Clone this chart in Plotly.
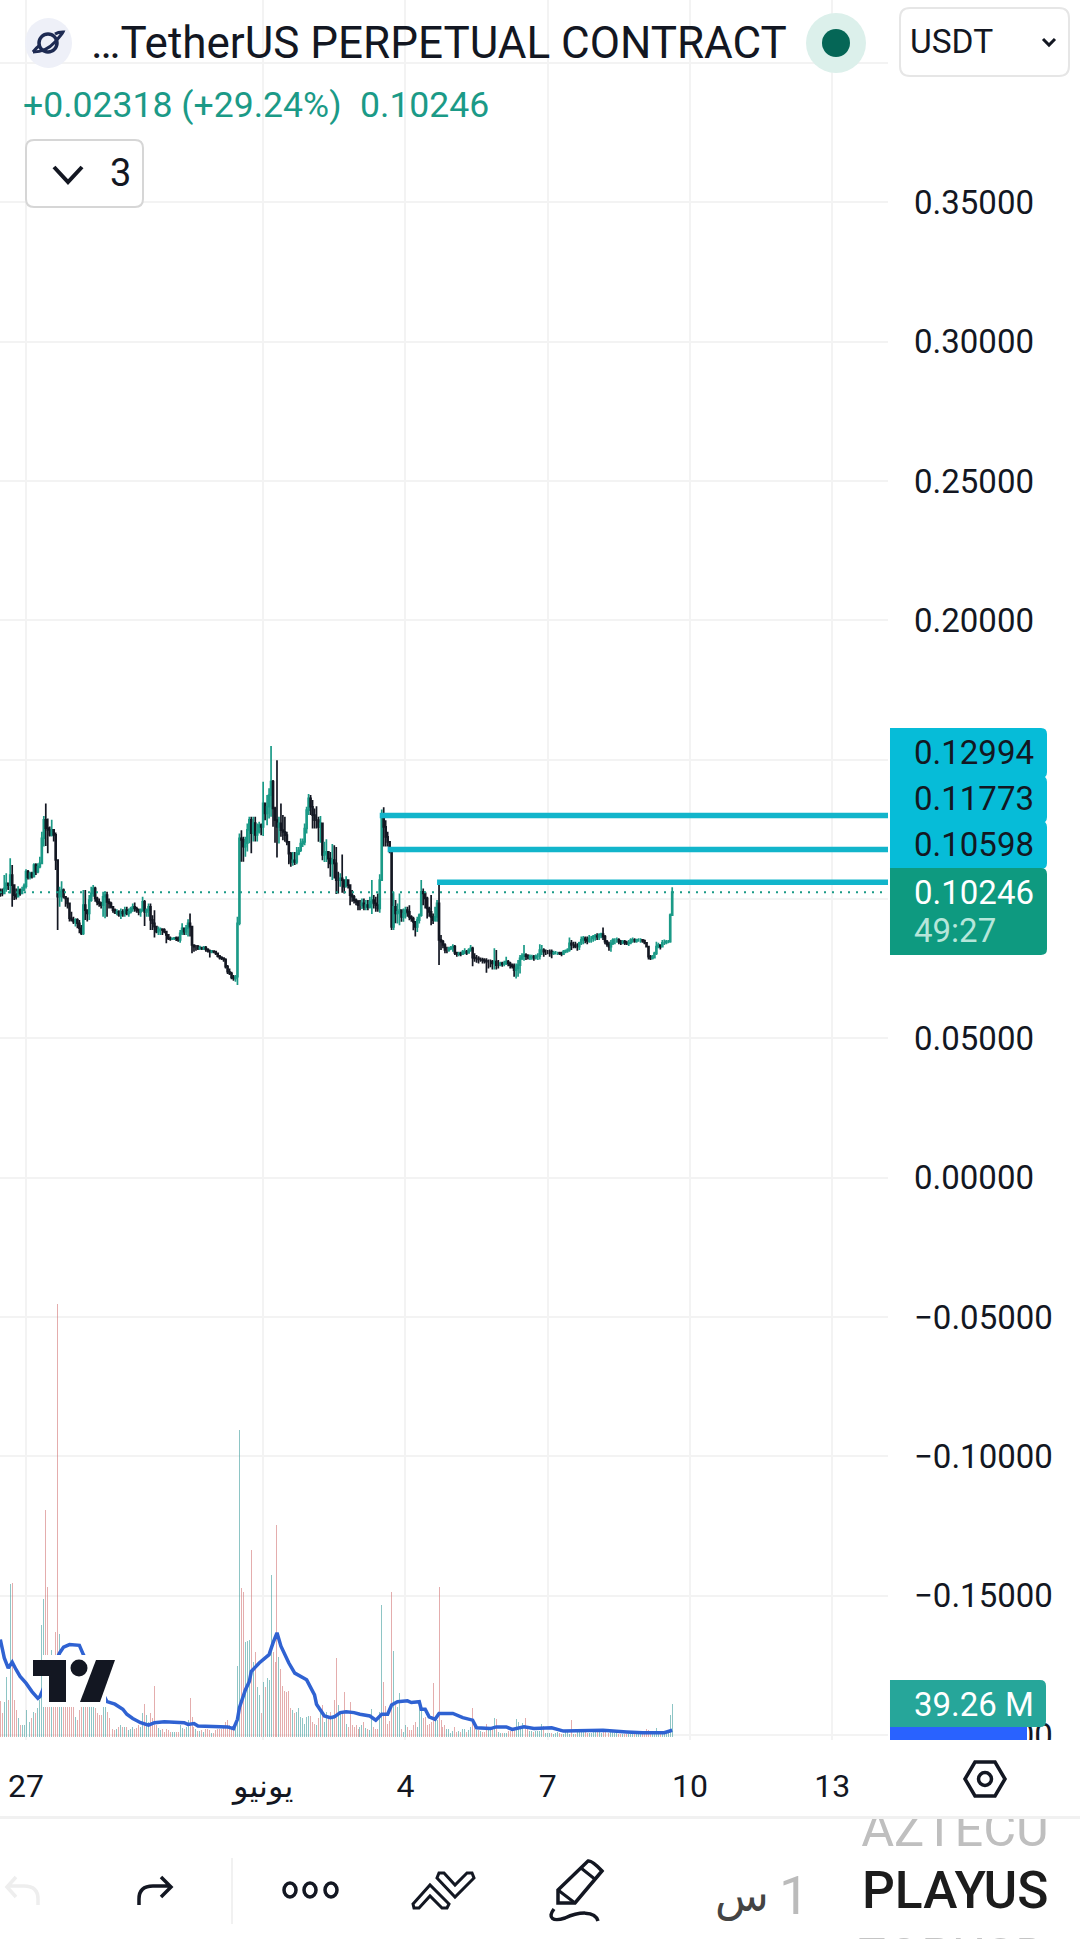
import pandas as pd
import plotly.graph_objects as go

W = 1080
H = 1939

first_open = 0.1032

closes = [
    .1026, .1020, .1038, .1056, .1050, .1086, .1050, .1014, .1008, .1032,
    .1020, .1032, .1046, .1098, .1078, .1092, .1080, .1122, .1098, .1116,
    .1128, .1218, .1284, .1254, .1248, .1230, .1248, .1230, .1140, .1008,
    .1026, .1032, .1008, .1002, .0984, .0931, .0925, .0919, .0925, .0913,
    .0895, .0877, .0978, .0960, .0948, .0996, .1020, .1038, .1002, .0990,
    .0984, .0978, .1008, .1014, .0990, .0984, .0972, .0960, .0951, .0954,
    .0942, .0954, .0948, .0960, .0948, .0954, .0966, .0972, .0966, .0960,
    .0954, .0960, .0990, .0954, .0960, .0972, .0925, .0913, .0901, .0883,
    .0889, .0891, .0889, .0883, .0871, .0859, .0857, .0859, .0860, .0859, .0853,
    .0877, .0895, .0883, .0895, .0913, .0901, .0835, .0829, .0829, .0823,
    .0826, .0823, .0826, .0819, .0814, .0811, .0813, .0811, .0805, .0795,
    .0790, .0788, .0783, .0757, .0739, .0733, .0719, .0715, .0721, .0913,
    .1218, .1212, .1188, .1200, .1248, .1284, .1236, .1272, .1230, .1242,
    .1265, .1259, .1343, .1307, .1331, .1373, .1421, .1325, .1283, .1259,
    .1271, .1247, .1241, .1229, .1205, .1163, .1133, .1139, .1133, .1163,
    .1175, .1199, .1205, .1253, .1319, .1361, .1331, .1301, .1283, .1283,
    .1259, .1271, .1158, .1163, .1169, .1145, .1128, .1140, .1128, .1068,
    .1068, .1074, .1068, .1044, .1068, .1050, .1014, .1008, .0996, .0990,
    .0978, .0978, .0984, .0972, .0978, .0972, .0990, .0996, .0984, .0978,
    .0966, .1068, .1295, .1259, .1223, .1205, .1181, .0900, .0972, .0948,
    .0954, .0960, .0936, .0948, .0960, .0954, .0936, .0930, .0918, .0900,
    .0924, .0942, .1026, .1020, .1002, .0966, .0954, .0936, .0924, .0936,
    .0984, .0853, .0847, .0835, .0817, .0817, .0823, .0826, .0829, .0807,
    .0802, .0805, .0802, .0811, .0811, .0807, .0817, .0823, .0790, .0787,
    .0787, .0783, .0783, .0781, .0778, .0775, .0775, .0775, .0769, .0775,
    .0763, .0763, .0769, .0767, .0769, .0775, .0769, .0763, .0759, .0745,
    .0751, .0763, .0787, .0795, .0799, .0795, .0790, .0793, .0793, .0790, .0795,
    .0795, .0817, .0817, .0811, .0811, .0811, .0811, .0805, .0807, .0807,
    .0807, .0805, .0802, .0811, .0814, .0817, .0841, .0835, .0835, .0829,
    .0829, .0843, .0853, .0859, .0853, .0850, .0859, .0859, .0865, .0867,
    .0865, .0871, .0874, .0865, .0847, .0838, .0829, .0841, .0853, .0853,
    .0853, .0847, .0843, .0847, .0843, .0841, .0843, .0853, .0853, .0850,
    .0853, .0853, .0853, .0850, .0843, .0829, .0793, .0787, .0790, .0805,
    .0829, .0835, .0829, .0843, .0843, .0847, .0847, .0942, .10246,
]
highs = [
    .1038, .1038, .1086, .1092, .1056, .1146, .1122, .1050, .1038, .1046,
    .1038, .1044, .1056, .1107, .1104, .1098, .1098, .1128, .1128, .1128,
    .1152, .1241, .1298, .1343, .1289, .1260, .1284, .1248, .1239, .1140,
    .1044, .1064, .1038, .1008, .1002, .0960, .0954, .0936, .0931, .0931,
    .0925, .0907, .1032, .1032, .0960, .1014, .1044, .1050, .1044, .1008,
    .1002, .0990, .1026, .1026, .1026, .1002, .0990, .0972, .0966, .0963,
    .0960, .0966, .0963, .0972, .0972, .0966, .0972, .0984, .0987, .0972,
    .0966, .0966, .1008, .0996, .0966, .0984, .0984, .0942, .0960, .0901,
    .0901, .0898, .0895, .0895, .0883, .0865, .0865, .0862, .0864, .0865, .0865,
    .0889, .0913, .0895, .0907, .0927, .0948, .0901, .0837, .0835, .0835,
    .0832, .0829, .0831, .0831, .0823, .0819, .0817, .0814, .0813, .0805,
    .0799, .0795, .0790, .0787, .0763, .0751, .0739, .0727, .0727, .0936,
    .1235, .1247, .1223, .1223, .1271, .1295, .1295, .1295, .1295, .1271,
    .1277, .1271, .1421, .1343, .1373, .1397, .1549, .1427, .1331, .1498,
    .1295, .1343, .1301, .1295, .1241, .1205, .1169, .1169, .1169, .1187,
    .1187, .1217, .1217, .1271, .1331, .1377, .1373, .1355, .1325, .1333,
    .1295, .1298, .1199, .1205, .1214, .1169, .1169, .1197, .1193, .1187,
    .1098, .1092, .1160, .1068, .1082, .1070, .1044, .1032, .1014, .1002,
    .0996, .0996, .1002, .1002, .0996, .0996, .1008, .1068, .1014, .1008,
    .1020, .1089, .1321, .1329, .1283, .1241, .1205, .1181, .1026, .0996,
    .0984, .1020, .0954, .0966, .0972, .0972, .0978, .0942, .0936, .0918,
    .0936, .0948, .1068, .1038, .1026, .1008, .0972, .1014, .0948, .0972,
    .0996, .1050, .0871, .0853, .0841, .0829, .0829, .0831, .0838, .0835,
    .0811, .0811, .0811, .0817, .0823, .0817, .0823, .0835, .0829, .0805,
    .0799, .0795, .0790, .0789, .0787, .0787, .0783, .0783, .0781, .0823,
    .0817, .0781, .0775, .0775, .0778, .0793, .0781, .0775, .0769, .0769,
    .0769, .0781, .0799, .0805, .0835, .0805, .0802, .0801, .0800, .0799, .0801,
    .0805, .0838, .0835, .0823, .0819, .0817, .0819, .0819, .0814, .0813,
    .0811, .0811, .0811, .0817, .0819, .0823, .0862, .0853, .0847, .0847,
    .0841, .0847, .0865, .0867, .0865, .0865, .0871, .0867, .0871, .0874,
    .0877, .0877, .0879, .0898, .0871, .0853, .0847, .0853, .0859, .0859,
    .0862, .0859, .0853, .0853, .0853, .0850, .0853, .0859, .0862, .0859,
    .0857, .0859, .0859, .0856, .0855, .0843, .0829, .0799, .0799, .0811,
    .0847, .0843, .0838, .0853, .0855, .0853, .0853, .0948, .1042,
]
lows = [
    .1008, .1010, .1020, .1026, .1032, .1020, .0972, .0996, .0998, .1014,
    .1012, .1020, .1032, .1038, .1070, .1070, .1074, .1080, .1086, .1092,
    .1110, .1128, .1188, .1190, .1164, .1224, .1224, .1206, .1104, .0889,
    .0972, .0990, .1002, .0972, .0966, .0919, .0919, .0910, .0901, .0895,
    .0877, .0871, .0871, .0925, .0919, .0925, .0990, .1008, .0990, .0978,
    .0972, .0966, .0936, .0931, .0936, .0966, .0966, .0951, .0946, .0942,
    .0936, .0928, .0936, .0936, .0942, .0936, .0948, .0954, .0954, .0951,
    .0942, .0936, .0954, .0903, .0936, .0936, .0889, .0889, .0862, .0877,
    .0871, .0871, .0871, .0877, .0841, .0853, .0850, .0853, .0853, .0849, .0847,
    .0843, .0871, .0871, .0871, .0865, .0865, .0805, .0811, .0814, .0817,
    .0817, .0817, .0817, .0811, .0808, .0790, .0805, .0805, .0799, .0790,
    .0783, .0781, .0775, .0751, .0731, .0727, .0712, .0707, .0703, .0691,
    .0906, .1134, .1134, .1152, .1170, .1200, .1164, .1206, .1206, .1206,
    .1235, .1229, .1226, .1283, .1265, .1289, .1295, .1259, .1202, .1149,
    .1199, .1223, .1211, .1205, .1193, .1125, .1116, .1119, .1122, .1125,
    .1157, .1169, .1187, .1193, .1235, .1301, .1301, .1253, .1253, .1253,
    .1205, .1202, .1139, .1133, .1133, .1110, .1080, .1068, .1074, .1018,
    .1020, .1044, .1022, .1020, .1044, .1038, .0978, .0990, .0984, .0978,
    .0960, .0960, .0964, .0960, .0960, .0960, .0966, .0946, .0966, .0954,
    .0954, .0951, .1068, .1188, .1188, .1188, .1164, .0889, .0889, .0913,
    .0912, .0906, .0918, .0918, .0930, .0936, .0924, .0918, .0888, .0865,
    .0882, .0912, .0936, .0978, .0966, .0930, .0936, .0906, .0910, .0918,
    .0918, .0763, .0817, .0823, .0805, .0805, .0811, .0817, .0811, .0799,
    .0793, .0795, .0795, .0799, .0802, .0799, .0805, .0811, .0759, .0775,
    .0771, .0769, .0775, .0769, .0769, .0735, .0751, .0755, .0747, .0747,
    .0747, .0751, .0759, .0757, .0759, .0763, .0759, .0751, .0751, .0721,
    .0715, .0721, .0733, .0781, .0778, .0781, .0783, .0781, .0782, .0778, .0783,
    .0781, .0783, .0799, .0793, .0799, .0802, .0793, .0787, .0799, .0801,
    .0799, .0799, .0795, .0799, .0805, .0807, .0811, .0817, .0823, .0823,
    .0814, .0817, .0835, .0838, .0841, .0838, .0843, .0843, .0847, .0850,
    .0853, .0853, .0859, .0853, .0838, .0829, .0814, .0811, .0835, .0838,
    .0843, .0838, .0835, .0838, .0835, .0835, .0831, .0838, .0843, .0843,
    .0843, .0847, .0843, .0843, .0838, .0826, .0783, .0781, .0783, .0787,
    .0799, .0823, .0819, .0826, .0835, .0838, .0841, .0843, .0942,
]
volumes = [
    43, 28, 42, 71, 44, 182, 183, 44, 32, 22,
    14, 14, 14, 32, 38, 18, 22, 30, 28, 34,
    44, 133, 164, 270, 178, 52, 104, 40, 125, 515,
    123, 40, 38, 38, 38, 38, 38, 36, 24, 20,
    32, 36, 36, 36, 36, 36, 36, 36, 34, 28,
    26, 26, 40, 52, 30, 22, 14, 10, 8, 10,
    12, 14, 12, 12, 12, 8, 9, 12, 10, 11,
    14, 12, 28, 39, 26, 18, 28, 22, 61, 14,
    11, 8, 10, 6, 10, 8, 6, 6, 6, 6, 6,
    14, 11, 10, 12, 20, 46, 24, 12, 9, 7,
    7, 8, 6, 9, 10, 8, 5, 5, 8, 10,
    10, 10, 12, 18, 20, 14, 12, 12, 14, 85,
    365, 177, 172, 113, 114, 115, 223, 89, 101, 59,
    50, 28, 65, 60, 70, 68, 193, 101, 89, 252,
    95, 81, 61, 55, 54, 55, 34, 32, 28, 30,
    34, 24, 22, 16, 24, 25, 25, 18, 16, 14,
    22, 28, 38, 18, 30, 24, 30, 24, 44, 94,
    38, 30, 28, 54, 16, 12, 42, 14, 12, 14,
    10, 12, 14, 18, 11, 10, 8, 33, 12, 10,
    10, 30, 157, 65, 37, 15, 19, 173, 102, 38,
    36, 52, 9, 6, 14, 12, 8, 8, 14, 18,
    12, 34, 32, 22, 24, 14, 16, 18, 64, 22,
    20, 178, 20, 12, 14, 10, 10, 5, 7, 12,
    6, 7, 6, 9, 9, 6, 8, 12, 35, 16,
    8, 8, 7, 6, 6, 16, 10, 10, 10, 23,
    21, 6, 5, 5, 5, 5, 7, 7, 9, 8,
    21, 18, 10, 17, 17, 23, 10, 7, 7, 6, 7,
    7, 7, 15, 13, 5, 5, 5, 5, 3, 5,
    6, 5, 4, 4, 6, 6, 4, 20, 4, 4,
    6, 7, 9, 10, 6, 5, 5, 5, 6, 6,
    6, 6, 5, 6, 7, 6, 5, 6, 6, 5,
    5, 4, 4, 4, 3, 4, 4, 3, 3, 4,
    4, 3, 3, 4, 5, 9, 8, 6, 5, 4,
    11, 5, 4, 3, 4, 4, 5, 26, 39.26,
]

# volume moving average, read every few candles
ma_index = [0, 1, 2, 4, 6, 8, 10, 13, 16, 19, 20, 22, 30, 32, 35, 40, 42, 54, 58, 62,
            64, 67, 71, 75, 78, 83, 88, 93, 95, 98, 100, 108, 115, 118, 120, 121, 124,
            126, 127, 131, 136, 138, 140, 142, 146, 149, 155, 159, 160, 164, 167, 169,
            172, 175, 179, 182, 187, 190, 193, 196, 198, 201, 206, 208, 212, 213, 215,
            217, 220, 222, 229, 234, 239, 241, 248, 251, 256, 259, 265, 270, 279, 285,
            300, 305, 317, 325, 336, 340]
ma_values = [116, 104, 94, 82, 89, 80, 72, 64, 54, 46, 48, 59, 100, 107, 110, 109, 98, 42, 39, 33,
             27, 22, 17, 14, 17, 18, 17, 17, 15, 16, 13, 13, 12, 10, 21, 35, 56,
             66, 78, 88, 98, 112, 124, 108, 88, 76, 68, 50, 39, 25, 23, 24,
             29, 30, 29, 27, 25, 20, 27, 27, 38, 42, 43, 41, 42, 33, 33,
             24, 21, 28, 28, 23, 20, 11, 10, 12, 12, 9, 12, 10, 11, 7,
             8, 8, 6, 5, 5, 8]

level_prices = [0.12994, 0.11773, 0.10598]
level_starts = ["2025-06-03 11:00", "2025-06-03 15:00", "2025-06-04 16:00"]
last_price = 0.10246

price_ticks = [-0.20, -0.15, -0.10, -0.05, 0.00, 0.05, 0.10, 0.15, 0.20, 0.25, 0.30, 0.35, 0.40]
price_labels = ["−0.20000", "−0.15000", "−0.10000", "−0.05000", "0.00000", "0.05000", "0.10000",
                "0.15000", "0.20000", "0.25000", "0.30000", "0.35000", ""]
date_ticks = ["2025-05-27", "2025-06-01", "2025-06-04", "2025-06-07", "2025-06-10", "2025-06-13"]
date_labels = ["27", "يونيو", "4", "7", "10", "13"]

x_start = "2025-05-26 10:50"
x_end = "2025-06-14 04:12"

UP = "#1b9a87"
DOWN = "#131722"
INK = "#131722"
FONT = "Roboto, 'DejaVu Sans', sans-serif"

dates = pd.date_range("2025-05-26 11:00", periods=len(closes), freq="h")
opens = [first_open] + closes[:-1]
vol_colors = ["rgba(50,150,150,0.55)" if c >= o else "rgba(205,105,105,0.55)" for o, c in zip(opens, closes)]

fig = go.Figure()

fig.add_trace(go.Bar(x=dates, y=volumes, yaxis="y2", marker=dict(color=vol_colors, line_width=0),
                     width=0.5 * 3600000))
fig.add_trace(go.Scatter(x=[dates[i] for i in ma_index], y=ma_values, yaxis="y2", mode="lines",
                         line=dict(color="#2f62d2", width=3.5)))
fig.add_trace(go.Candlestick(x=dates, open=opens, high=highs, low=lows, close=closes, whiskerwidth=0,
                             increasing=dict(line=dict(color=UP, width=1.7), fillcolor=UP),
                             decreasing=dict(line=dict(color=DOWN, width=1.7), fillcolor=DOWN)))
fig.add_trace(go.Scatter(x=[x_start, x_end], y=[last_price, last_price], mode="lines",
                         line=dict(color=UP, width=2, dash="2px,6px")))
for price, start in zip(level_prices, level_starts):
    fig.add_trace(go.Scatter(x=[start, x_end], y=[price, price], mode="lines",
                             line=dict(color="#12b5cb", width=5.5)))


# everything below is screen furniture placed in pixels of the 1080x1939 page
def px_path(s):
    out = []
    is_y = False
    for tok in s.split():
        if tok.isalpha():
            out.append(tok)
        else:
            v = float(tok)
            out.append(f"{1 - v / H:.5f}" if is_y else f"{v / W:.5f}")
            is_y = not is_y
    return " ".join(out)


def shape_path(s, fill=None, line=None, width=0):
    fig.add_shape(type="path", path=px_path(s), xref="paper", yref="paper", layer="above",
                  fillcolor=fill if fill else "rgba(0,0,0,0)",
                  line=dict(color=line if line else "rgba(0,0,0,0)", width=width))


def rect(x0, y0, x1, y1, fill, label=None):
    fig.add_shape(type="rect", x0=x0 / W, x1=x1 / W, y0=1 - y0 / H, y1=1 - y1 / H, xref="paper", yref="paper",
                  layer="above", fillcolor=fill, line_width=0, label=label if label else {})


def oval(cx, cy, rx, ry, fill=None, line=None, width=0):
    fig.add_shape(type="circle", x0=(cx - rx) / W, x1=(cx + rx) / W, y0=1 - (cy + ry) / H, y1=1 - (cy - ry) / H,
                  xref="paper", yref="paper", layer="above", fillcolor=fill if fill else "rgba(0,0,0,0)",
                  line=dict(color=line if line else "rgba(0,0,0,0)", width=width))


def rbox(x0, y0, x1, y1, r, fill, line=None, width=0):
    shape_path(f"M {x0 + r} {y0} L {x1 - r} {y0} Q {x1} {y0} {x1} {y0 + r} L {x1} {y1 - r} Q {x1} {y1} {x1 - r} {y1} "
               f"L {x0 + r} {y1} Q {x0} {y1} {x0} {y1 - r} L {x0} {y0 + r} Q {x0} {y0} {x0 + r} {y0} Z",
               fill=fill, line=line, width=width)


def tag(x0, y0, x1, y1, fill):
    # price tags are square on the left, slightly rounded on the right
    r = 6
    shape_path(f"M {x0} {y0} L {x1 - r} {y0} Q {x1} {y0} {x1} {y0 + r} L {x1} {y1 - r} Q {x1} {y1} {x1 - r} {y1} "
               f"L {x0} {y1} Z", fill=fill)


def text(x, y, s, size, color=INK, anchor="left", weight=None):
    fig.add_annotation(x=x / W, y=1 - y / H, xref="paper", yref="paper", text=s, showarrow=False,
                       xanchor=anchor, yanchor="middle", borderpad=0,
                       font=dict(family=FONT, size=size, color=color, weight=weight))


# watermark hides whatever runs under it
rect(42, 1655, 106, 1707, "white")
shape_path("M 33 1660 L 66 1660 L 66 1702 L 49 1702 L 49 1676 L 33 1676 Z", fill=INK)
oval(79, 1668, 8.5, 8.5, fill=INK)
shape_path("M 96 1660 L 115 1660 L 100 1702 L 80 1702 Z", fill=INK)

# header
oval(48.5, 43, 23.5, 25, fill="#eef0f8")
oval(48, 43, 9, 9, line="#1d2a52", width=3.5)
shape_path("M 33 52 Q 46 52 55 42 Q 62 34 63 32 Q 58 32 55 34", line="#1d2a52", width=3)
shape_path("M 33 52 Q 36 48 40 45", line="#1d2a52", width=3)
text(90, 43, "…TetherUS PERPETUAL CONTRACT", 44)
oval(836, 43, 30, 30, fill="#dcf0eb")
oval(836, 43, 14, 14, fill="#056656")
rbox(900, 8, 1069, 76, 10, "white", line="#e6e6e6", width=2)
text(909, 42, "USDT", 33.5)
shape_path("M 1043 39 L 1049 45 L 1055 39", line=INK, width=3)
text(22, 105, "+0.02318 (+29.24%)", 35.6, UP)
text(359, 105, "0.10246", 35.6, UP)
rbox(26, 140, 143, 207, 8, "white", line="#d6d6d6", width=2)
shape_path("M 54 167 L 68 182 L 82 167", line=INK, width=4)
text(109, 173, "3", 38)

# price tags
tag(890, 728, 1047, 778, "#06bcd8")
tag(890, 776, 1047, 823, "#06bcd8")
tag(890, 821, 1047, 869, "#06bcd8")
tag(890, 868, 1047, 955, "#0e9a80")
text(913, 752, "0.12994", 33)
text(913, 798, "0.11773", 33)
text(913, 844, "0.10598", 33)
text(913, 892, "0.10246", 33, "white")
text(913, 931, "49:27", 33, "#b6e6da")

# volume tags, the lower one runs under the time axis
rect(890, 1725, 1027, 1745, "#2962ff")
rect(888, 1740, W, 1812, "white")
tag(890, 1680, 1046, 1727, "#26a69a")
text(913, 1704, "39.26 M", 33, "white")

# settings hexagon next to the time axis
shape_path("M 965 1779 L 975 1762 L 995 1762 L 1005 1779 L 995 1796 L 975 1796 Z", line=INK, width=3.5)
oval(985, 1779, 6.5, 6.5, line=INK, width=3.5)

# ticker wheel, the upper row is cut by the toolbar edge
rect(855, 1800, 1055, 1850, "rgba(0,0,0,0)",
     label=dict(text="AZTECU", font=dict(family=FONT, size=50.5, color="#bfbfbf"), textposition="middle center"))
rect(850, 1798, 1060, 1818, "white")
rect(0, 1816, W, 1819, "#f1f1f1")
text(1049, 1890, "PLAYUS", 51.5, "#1c1c1c", anchor="right", weight=500)
text(1049, 1956, "ZORUSD", 50.5, "#c4c4c4", anchor="right")
text(810, 1895, "1", 54, "#bbbbbb", anchor="right")
text(770, 1896, "س", 44, "#444444", anchor="right")

# toolbar icons
shape_path("M 38 1905 L 38 1899 Q 38 1886 24 1886 L 7 1886 M 16 1877 L 7 1887 L 16 1897", line="#eeeeee", width=3.5)
shape_path("M 139 1905 L 139 1899 Q 139 1886 153 1886 L 170 1886 M 161 1877 L 171 1887 L 161 1897", line=INK, width=3.5)
rect(231, 1858, 233, 1924, "#f1f1f1")
for cx in (290, 310, 331):
    oval(cx, 1890, 6, 7, line=INK, width=3.5)
shape_path("M 413 1904 L 430 1885 L 449 1904 L 447 1908 L 442 1908 L 430 1896 L 419 1908 L 414 1908 Z",
           line=INK, width=3)
shape_path("M 437 1878 L 455 1897 L 474 1878 L 472 1873 L 467 1873 L 455 1885 L 444 1873 L 439 1873 Z",
           line=INK, width=3)
shape_path("M 558 1890 L 588 1861 Q 592 1860 602 1871 L 575 1903 L 558 1903 Z", line=INK, width=3.5)
shape_path("M 558 1890 L 575 1903 M 581 1868 L 596 1880", line=INK, width=3)
shape_path("M 554 1909 C 547 1918 553 1922 565 1918 C 578 1912 595 1910 598 1921", line=INK, width=3.5)

fig.update_layout(
    width=W,
    height=H,
    margin=dict(l=0, r=0, t=0, b=0),
    paper_bgcolor="white",
    plot_bgcolor="white",
    showlegend=False,
    bargap=0,
    xaxis=dict(
        domain=[0, 888 / W],
        type="date",
        automargin=False,
        range=[x_start, x_end],
        rangeslider=dict(visible=False),
        tickmode="array",
        tickvals=date_ticks,
        ticktext=date_labels,
        ticks="",
        ticklabelstandoff=24,
        tickangle=0,
        showgrid=True,
        gridcolor="#f3f3f3",
        gridwidth=2,
        showline=False,
        zeroline=False,
        tickfont=dict(family=FONT, size=32, color=INK),
    ),
    yaxis=dict(
        domain=[1 - 1740 / H, 1],
        side="right",
        automargin=False,
        # 2787 px per 1.0 of price
        range=[0.1 - (1740 - 899) / 2787, 0.1 + 899 / 2787],
        tickmode="array",
        tickvals=price_ticks,
        ticktext=price_labels,
        ticks="",
        ticklabelstandoff=25,
        showgrid=True,
        gridcolor="#f3f3f3",
        gridwidth=2,
        zeroline=False,
        showline=False,
        tickfont=dict(family=FONT, size=33, color=INK),
    ),
    yaxis2=dict(
        domain=[1 - 1740 / H, 1],
        overlaying="y",
        side="right",
        visible=False,
        automargin=False,
        # 1.19 M per px above the base at y=1737
        range=[-3.6, 1737 * 1.19],
    ),
)

fig.write_html("out.html", config={"displayModeBar": False},
               post_script="document.body.style.margin='0';")
